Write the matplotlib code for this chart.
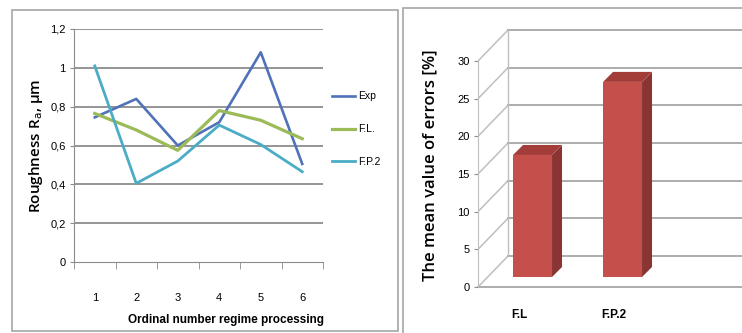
import matplotlib.pyplot as plt
from matplotlib.patches import Rectangle, Polygon

# data
regimes = [1, 2, 3, 4, 5, 6]
exp_vals = [0.745, 0.84, 0.60, 0.72, 1.08, 0.505]
fl_vals = [0.765, 0.68, 0.575, 0.78, 0.73, 0.635]
fp2_vals = [1.01, 0.405, 0.52, 0.705, 0.605, 0.465]
y_ticks_left = [0, 0.2, 0.4, 0.6, 0.8, 1.0, 1.2]
y_labels_left = ['0', '0,2', '0,4', '0,6', '0,8', '1', '1,2']

methods = ['F.L', 'F.P.2']
errors = [16.2, 25.9]
y_ticks_right = [0, 5, 10, 15, 20, 25, 30]

sans = ['Liberation Sans', 'DejaVu Sans']
grey = '#8c8c8c'

fig = plt.figure(figsize=(7.42, 3.33), dpi=100)
W, H = 742, 333

# panel frames
fig.patches.append(Rectangle((12 / W, 2 / H), 386 / W, 321 / H, transform=fig.transFigure,
                             fill=False, edgecolor='#a6a6a6', lw=1.2))
fig.patches.append(Rectangle((403 / W, -0.02), 0.5, (325 / H) + 0.02, transform=fig.transFigure,
                             fill=False, edgecolor='#a6a6a6', lw=1.2))

# ---- left: line chart
ax = fig.add_axes([74 / W, (H - 262) / H, 249 / W, 233 / H])
ax.plot(regimes, exp_vals, color='#4f72b8', lw=1.9, label='Exp')
ax.plot(regimes, fl_vals, color='#9bbb59', lw=2.3, label='F.L.')
ax.plot(regimes, fp2_vals, color='#4bacc6', lw=2.0, label='F.P.2')
ax.set_xlim(0.5, 6.5)
ax.set_ylim(0, 1.2)
ax.set_yticks(y_ticks_left)
ax.set_yticklabels(y_labels_left, family=sans, fontsize=8)
ax.set_xticks(regimes)
ax.set_xticklabels([str(r) for r in regimes], family=sans, fontsize=8)
ax.set_xticks([r + 0.5 for r in [0] + regimes], minor=True)
ax.tick_params(axis='x', which='major', length=0, pad=22)
ax.tick_params(axis='x', which='minor', length=5, color=grey)
ax.tick_params(axis='y', length=3, color=grey, pad=3)
for y in y_ticks_left[1:]:
    ax.axhline(y, color=grey, lw=1.3, zorder=0)
for s in ['top', 'right']:
    ax.spines[s].set_visible(False)
ax.spines['left'].set_color(grey)
ax.spines['bottom'].set_color(grey)
ax.set_xlabel('Ordinal number regime processing', family=sans, fontsize=8.5,
              fontweight='bold')
ax.xaxis.set_label_coords(0.61, -0.225)
ax.set_ylabel(r'Roughness R$_\mathrm{a}$, μm', family='Open Sans', fontsize=11,
              fontweight='semibold')
ax.yaxis.set_label_coords(-0.115, 0.5)
leg = ax.legend(loc='center left', bbox_to_anchor=(1.02, 0.57), frameon=False,
                prop={'family': sans, 'size': 7.5}, handlelength=2.2,
                labelspacing=2.2, handletextpad=0.3, borderaxespad=0)

# ---- right: pseudo 3D bar chart
bx = fig.add_axes([478 / W, (H - 287) / H, 264 / W, 267 / H])
xmin = -0.606
bx.set_xlim(xmin, xmin + 264 / 90)
bx.set_ylim(0, 267 / 7.533)
wdx, wdy = 30 / 90, 31 / 7.533  # back wall offset
bdx, bdy = 10 / 90, 10 / 7.533  # bar offset and depth
xmax = xmin + 264 / 90 + 0.1
wall = '#a6a6a6'
for v in y_ticks_right:
    bx.plot([xmin, xmin + wdx], [v, v + wdy], color='#bfbfbf', lw=1.1, zorder=1)
    bx.plot([xmin + wdx, xmax], [v + wdy, v + wdy], color=wall, lw=1.3, zorder=1)
bx.plot([xmin + wdx, xmin + wdx], [wdy, 30 + wdy], color='#bfbfbf', lw=1.0, zorder=1)
bx.plot([xmin, xmax], [0, 0], color=wall, lw=1.3, zorder=1, clip_on=False)

xs = list(range(len(methods)))
w = 0.433
bx.bar(xs, errors, width=w, bottom=bdy, color='#c44f4b', edgecolor='none', zorder=3)
for x, v in zip(xs, errors):
    r = x + w / 2
    l = x - w / 2
    top = bdy + v
    bx.add_patch(Polygon([(r, bdy), (r + bdx, 2 * bdy), (r + bdx, top + bdy), (r, top)],
                         closed=True, facecolor='#8a3533', edgecolor='none', zorder=3))
    bx.add_patch(Polygon([(l, top), (l + bdx, top + bdy), (r + bdx, top + bdy), (r, top)],
                         closed=True, facecolor='#a33d3a', edgecolor='none', zorder=3))
    bx.text(l - 0.02, -3.7, methods[x], ha='left', va='center',
            family=sans, fontsize=8.5, fontweight='bold')

bx.set_xticks([])
bx.set_yticks(y_ticks_right)
bx.set_yticklabels([str(t) for t in y_ticks_right], family=sans, fontsize=8)
bx.tick_params(axis='y', length=3, color=grey, pad=3)
for s in ['top', 'right', 'bottom']:
    bx.spines[s].set_visible(False)
bx.spines['left'].set_bounds(0, 30)
bx.spines['left'].set_color('#bfbfbf')
bx.text(-0.18, 0.455, 'The mean value of errors [%]', transform=bx.transAxes, rotation=90,
        ha='center', va='center', family='Open Sans', fontsize=12, fontweight='semibold')

fig.savefig('out.png', dpi=100)
